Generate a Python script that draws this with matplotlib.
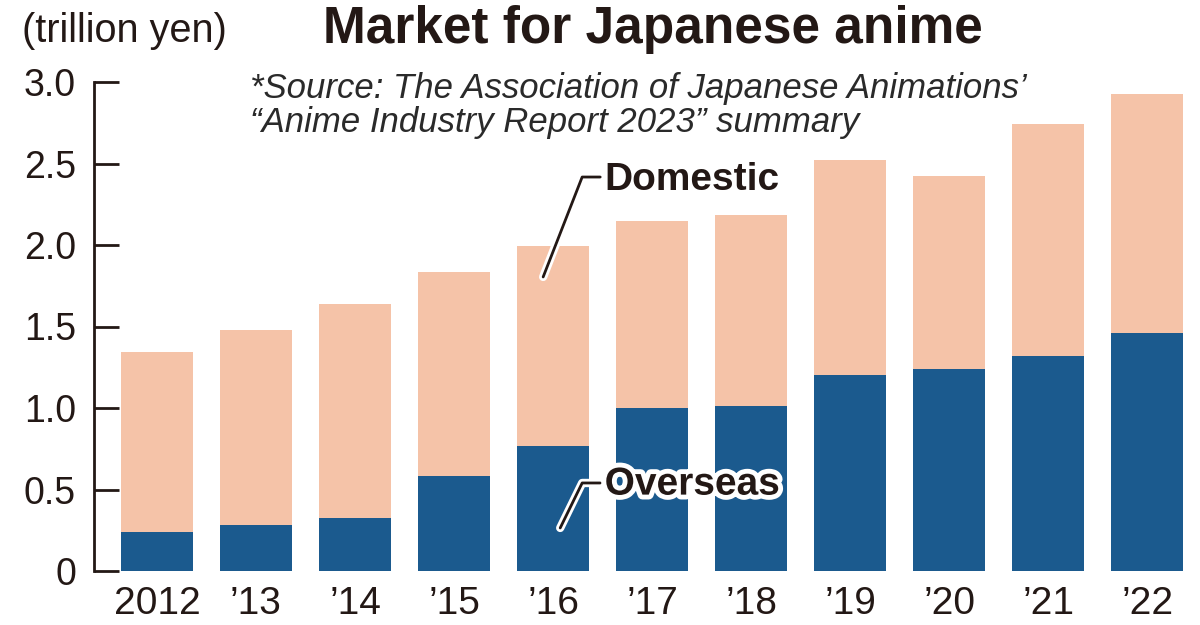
import matplotlib
matplotlib.use("Agg")
import matplotlib.pyplot as plt
import matplotlib.patheffects as pe

plt.rcParams['font.family'] = ['Liberation Sans', 'DejaVu Sans']

years = ["2012", "\u201913", "\u201914", "\u201915", "\u201916", "\u201917", "\u201918", "\u201919", "\u201920", "\u201921", "\u201922"]
total = [1.344, 1.479, 1.638, 1.834, 1.994, 2.147, 2.184, 2.521, 2.423, 2.742, 2.928]
overseas = [0.239, 0.282, 0.325, 0.583, 0.767, 1.000, 1.012, 1.202, 1.239, 1.319, 1.459]
domestic = [t - o for t, o in zip(total, overseas)]
yticks = [0, 0.5, 1.0, 1.5, 2.0, 2.5, 3.0]
ytick_labels = ["0", "0.5", "1.0", "1.5", "2.0", "2.5", "3.0"]

C_DOM = "#F5C3A8"
C_OVS = "#1B5A8E"
INK = "#231815"

fig = plt.figure(figsize=(12, 6.25), dpi=100)
ax = fig.add_axes([94/1200, 54/625, 1096/1200, 489/625])

x = list(range(len(years)))
ax.bar(x, overseas, width=0.727, color=C_OVS, zorder=2)
ax.bar(x, domestic, bottom=overseas, width=0.727, color=C_DOM, zorder=2)

ax.set_xlim(-0.636, 10.43)
ax.set_ylim(0, 3.0)
for s in ["top", "right", "bottom"]:
    ax.spines[s].set_visible(False)
ax.spines["left"].set_linewidth(2)
ax.spines["left"].set_color(INK)
ax.set_yticks(yticks)
ax.set_yticklabels(ytick_labels)
ax.tick_params(axis="y", direction="in", length=18, width=2, color=INK,
               labelsize=27, labelcolor=INK, pad=13)
ax.set_xticks(x)
ax.set_xticklabels(years)
ax.tick_params(axis="x", length=0, labelsize=28, labelcolor=INK, pad=11)

# Title and unit
fig.text(22/1200, 1 - 42/625, "(trillion yen)", fontsize=28.5, color=INK,
         ha="left", va="baseline")
fig.text(653/1200, 1 - 43/625, "Market for Japanese anime", fontsize=37,
         fontweight="bold", color=INK, ha="center", va="baseline")
fig.text(250/1200, 1 - 98/625, "*Source: The Association of Japanese Animations\u2019",
         fontsize=25, style="italic", color="#2a2a2a", ha="left", va="baseline")
fig.text(250/1200, 1 - 132/625, "\u201cAnime Industry Report 2023\u201d summary",
         fontsize=25, style="italic", color="#2a2a2a", ha="left", va="baseline")

# Leader lines and labels
stroke = [pe.Stroke(linewidth=6, foreground="white"), pe.Normal()]
ax.plot([4.475, 4.293, 3.899], [2.417, 2.417, 1.804], color=INK, lw=2,
        zorder=5, path_effects=stroke, solid_capstyle="round")
ax.plot([4.475, 4.293, 4.071], [0.540, 0.540, 0.264], color=INK, lw=2,
        zorder=5, path_effects=stroke, solid_capstyle="round")
ax.text(4.52, 2.40, "Domestic", fontsize=28, fontweight="bold", color=INK,
        ha="left", va="center", zorder=6)
ax.text(4.52, 0.53, "Overseas", fontsize=28, fontweight="bold", color=INK,
        ha="left", va="center", zorder=6,
        path_effects=[pe.Stroke(linewidth=7, foreground="white"), pe.Normal()])

fig.savefig("out.png", dpi=100)
